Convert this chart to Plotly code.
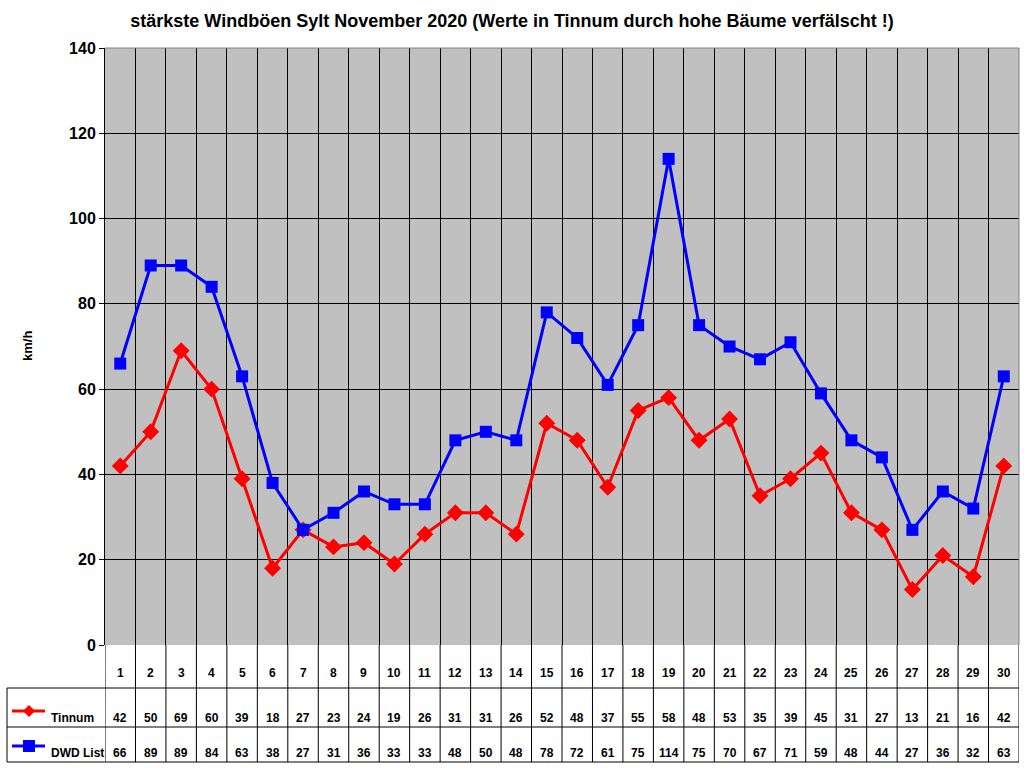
import plotly.graph_objects as go

# data
days = list(range(1, 31))
tinnum = [42, 50, 69, 60, 39, 18, 27, 23, 24, 19, 26, 31, 31, 26, 52,
          48, 37, 55, 58, 48, 53, 35, 39, 45, 31, 27, 13, 21, 16, 42]
dwd_list = [66, 89, 89, 84, 63, 38, 27, 31, 36, 33, 33, 48, 50, 48, 78,
            72, 61, 75, 114, 75, 70, 67, 71, 59, 48, 44, 27, 36, 32, 63]
series_names = ["Tinnum", "DWD List"]
y_ticks = [0, 20, 40, 60, 80, 100, 120, 140]

FONT = "Liberation Sans, Arial, sans-serif"
W, H = 1024, 768
L, R, T, B = 105, 5, 48, 123
ph = H - T - B
pw = W - L - R


def py(pix):
    # pixel row -> paper y
    return (H - B - pix) / ph


def px(pix):
    return (pix - L) / pw


fig = go.Figure()
fig.add_trace(go.Scatter(x=days, y=tinnum, name=series_names[0], mode="lines+markers",
                         line=dict(color="#FF0000", width=3),
                         marker=dict(symbol="diamond", size=13, color="#FF0000")))
fig.add_trace(go.Scatter(x=days, y=dwd_list, name=series_names[1], mode="lines+markers",
                         line=dict(color="#0000FF", width=3),
                         marker=dict(symbol="square", size=12, color="#0000FF")))

shapes = []
annotations = []

# table rows (pixel rows)
row_num, row_t, row_d, row_end = 645, 688, 727, 762
left_tab = 7

# vertical lines through the table
for i in range(len(days) + 1):
    shapes.append(dict(type="line", xref="x", yref="paper", x0=i + 0.5, x1=i + 0.5,
                       y0=py(row_num), y1=py(row_end), line=dict(color="black", width=1)))
# horizontal lines of the table
for r in [row_t, row_d, row_end]:
    shapes.append(dict(type="line", xref="paper", yref="paper", x0=px(left_tab), x1=1,
                       y0=py(r), y1=py(r), line=dict(color="black", width=1)))
shapes.append(dict(type="line", xref="paper", yref="paper", x0=px(left_tab), x1=px(left_tab),
                   y0=py(row_t), y1=py(row_end), line=dict(color="black", width=1)))
# plot border (gray top/right)
shapes.append(dict(type="line", xref="paper", yref="paper", x0=0, x1=1, y0=1, y1=1,
                   line=dict(color="#808080", width=1)))
shapes.append(dict(type="line", xref="paper", yref="paper", x0=1, x1=1, y0=0, y1=1,
                   line=dict(color="#808080", width=1)))

# legend keys inside the table
keys = [(py(711), "#FF0000", "diamond"), (py(746), "#0000FF", "square")]
for yk, col, sym in keys:
    shapes.append(dict(type="line", xref="paper", yref="paper", x0=px(12), x1=px(45),
                       y0=yk, y1=yk, line=dict(color=col, width=3)))
    dx, dy = 6 / pw, 6 / ph
    xc = px(29)
    if sym == "diamond":
        path = (f"M {xc - dx} {yk} L {xc} {yk + dy} L {xc + dx} {yk} L {xc} {yk - dy} Z")
    else:
        path = (f"M {xc - dx} {yk - dy} L {xc - dx} {yk + dy} L {xc + dx} {yk + dy} "
                f"L {xc + dx} {yk - dy} Z")
    shapes.append(dict(type="path", xref="paper", yref="paper", path=path,
                       fillcolor=col, line=dict(color=col, width=0)))

tfont = dict(family=FONT, size=12, color="black", weight="bold")
for name, yc in zip(series_names, [718, 753]):
    annotations.append(dict(x=px(49), y=py(yc), xref="paper", yref="paper", text=name,
                            showarrow=False, xanchor="left", yanchor="middle", font=tfont))

for d, t, w in zip(days, tinnum, dwd_list):
    for val, yc in [(d, 673), (t, 718), (w, 753)]:
        annotations.append(dict(x=d, y=py(yc), xref="x", yref="paper", text=str(val),
                                showarrow=False, xanchor="center", yanchor="middle", font=tfont))

annotations.append(dict(x=px(18), y=0.5, xref="paper", yref="paper", text="km/h",
                        showarrow=False, textangle=-90,
                        font=dict(family=FONT, size=13, color="black", weight="bold")))

fig.update_layout(
    width=W, height=H,
    margin=dict(l=L, r=R, t=T, b=B),
    paper_bgcolor="white",
    plot_bgcolor="#C0C0C0",
    showlegend=False,
    title=dict(text="stärkste Windböen Sylt November 2020 (Werte in Tinnum durch hohe Bäume verfälscht !)",
               x=0.5, xanchor="center", y=1 - 21 / H, yanchor="middle",
               font=dict(family=FONT, size=18, color="black", weight="bold")),
    xaxis=dict(range=[0.5, 30.5], tickvals=[i + 0.5 for i in range(31)], showticklabels=False,
               showgrid=True, gridcolor="black", gridwidth=1, zeroline=False, ticks="",
               showline=False, fixedrange=True),
    yaxis=dict(range=[0, 140], tickvals=y_ticks, showgrid=True, gridcolor="black", gridwidth=1,
               zeroline=False, showline=True, linecolor="black", linewidth=1,
               ticks="outside", ticklen=5, tickcolor="black",
               tickfont=dict(family=FONT, size=16, color="black", weight="bold")),
    shapes=shapes,
    annotations=annotations,
    font=dict(family=FONT),
)

fig.write_html("out.html", config={"displayModeBar": False},
               post_script="document.body.style.margin='0';document.body.style.overflow='hidden';")
